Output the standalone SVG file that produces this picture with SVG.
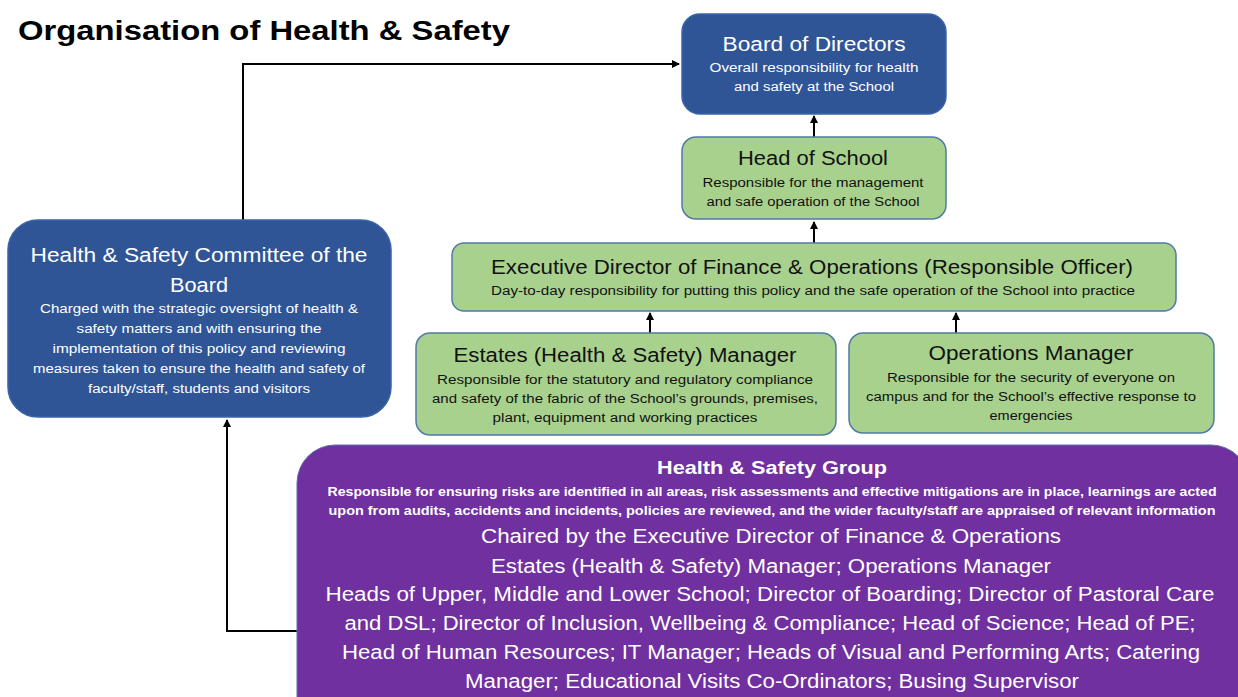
<svg xmlns="http://www.w3.org/2000/svg" width="1238" height="697" viewBox="0 0 1238 697">
<defs>
<marker id="ah" markerWidth="8" markerHeight="8" refX="7" refY="4" orient="auto" markerUnits="userSpaceOnUse">
<path d="M0,0 L8,4 L0,8 Z" fill="#000"/>
</marker>
<style>
text{font-family:"Liberation Sans",Arial,sans-serif;text-anchor:middle}
.blue{fill:#2F5597;stroke:#3A64A8;stroke-width:1.5}
.green{fill:#A9D18E;stroke:#4F7BA6;stroke-width:1.5}
.purple{fill:#7030A0;stroke:#5B6FB0;stroke-width:1}
.w{fill:#fff}
.k{fill:#111}
.t{font-size:20px}
.s{font-size:12.5px}
.cn{fill:none;stroke:#000;stroke-width:2}
</style>
</defs>
<rect width="1238" height="697" fill="#fff"/>
<text x="18" y="40" style="text-anchor:start;font-weight:bold;font-size:28px" fill="#000" textLength="492" lengthAdjust="spacingAndGlyphs">Organisation of Health &amp; Safety</text>

<g id="connectors">
<path class="cn" d="M243,220 V64 H679" marker-end="url(#ah)"/>
<path class="cn" d="M297,631 H227 V420" marker-end="url(#ah)"/>
<path class="cn" d="M814,137 V116" marker-end="url(#ah)"/>
<path class="cn" d="M814,243 V222" marker-end="url(#ah)"/>
<path class="cn" d="M650,333 V313" marker-end="url(#ah)"/>
<path class="cn" d="M956,333 V313" marker-end="url(#ah)"/>
</g>

<g id="board">
<rect class="blue" x="682" y="14" width="264" height="100" rx="18"/>
<text class="w t" x="814" y="51" textLength="183" lengthAdjust="spacingAndGlyphs">Board of Directors</text>
<text class="w s" x="814" y="72" textLength="209" lengthAdjust="spacingAndGlyphs">Overall responsibility for health</text>
<text class="w s" x="814" y="91" textLength="160" lengthAdjust="spacingAndGlyphs">and safety at the School</text>
</g>

<g id="head">
<rect class="green" x="682" y="137" width="264" height="82" rx="14"/>
<text class="k t" x="813" y="165" textLength="150" lengthAdjust="spacingAndGlyphs">Head of School</text>
<text class="k s" x="813" y="187" textLength="221" lengthAdjust="spacingAndGlyphs">Responsible for the management</text>
<text class="k s" x="813" y="206" textLength="213" lengthAdjust="spacingAndGlyphs">and safe operation of the School</text>
</g>

<g id="exec">
<rect class="green" x="452" y="243" width="724" height="68" rx="12"/>
<text class="k t" x="812" y="274" textLength="642" lengthAdjust="spacingAndGlyphs">Executive Director of Finance &amp; Operations (Responsible Officer)</text>
<text class="k s" x="813" y="295" textLength="644" lengthAdjust="spacingAndGlyphs">Day-to-day responsibility for putting this policy and the safe operation of the School into practice</text>
</g>

<g id="estates">
<rect class="green" x="416" y="333" width="420" height="102" rx="14"/>
<text class="k t" x="625" y="362" textLength="343" lengthAdjust="spacingAndGlyphs">Estates (Health &amp; Safety) Manager</text>
<text class="k s" x="625" y="384" textLength="376" lengthAdjust="spacingAndGlyphs">Responsible for the statutory and regulatory compliance</text>
<text class="k s" x="625" y="403" textLength="386" lengthAdjust="spacingAndGlyphs">and safety of the fabric of the School’s grounds, premises,</text>
<text class="k s" x="625" y="422" textLength="265" lengthAdjust="spacingAndGlyphs">plant, equipment and working practices</text>
</g>

<g id="ops">
<rect class="green" x="849" y="333" width="365" height="100" rx="14"/>
<text class="k t" x="1031" y="360" textLength="205" lengthAdjust="spacingAndGlyphs">Operations Manager</text>
<text class="k s" x="1031" y="382" textLength="288" lengthAdjust="spacingAndGlyphs">Responsible for the security of everyone on</text>
<text class="k s" x="1031" y="401" textLength="330" lengthAdjust="spacingAndGlyphs">campus and for the School’s effective response to</text>
<text class="k s" x="1031" y="420" textLength="83" lengthAdjust="spacingAndGlyphs">emergencies</text>
</g>

<g id="committee">
<rect class="blue" x="8" y="220" width="383" height="197" rx="30"/>
<text class="w t" x="199" y="262" textLength="337" lengthAdjust="spacingAndGlyphs">Health &amp; Safety Committee of the</text>
<text class="w t" x="199" y="292" textLength="58" lengthAdjust="spacingAndGlyphs">Board</text>
<text class="w s" x="199" y="313" textLength="318" lengthAdjust="spacingAndGlyphs">Charged with the strategic oversight of health &amp;</text>
<text class="w s" x="199" y="333" textLength="245" lengthAdjust="spacingAndGlyphs">safety matters and with ensuring the</text>
<text class="w s" x="199" y="353" textLength="293" lengthAdjust="spacingAndGlyphs">implementation of this policy and reviewing</text>
<text class="w s" x="199" y="373" textLength="332" lengthAdjust="spacingAndGlyphs">measures taken to ensure the health and safety of</text>
<text class="w s" x="199" y="393" textLength="222" lengthAdjust="spacingAndGlyphs">faculty/staff, students and visitors</text>
</g>

<g id="group">
<rect class="purple" x="297" y="445" width="952" height="290" rx="38"/>
<text class="w" x="772" y="474" style="font-size:18px;font-weight:bold" textLength="230" lengthAdjust="spacingAndGlyphs">Health &amp; Safety Group</text>
<text class="w" x="772" y="496" style="font-size:12px;font-weight:bold" textLength="889" lengthAdjust="spacingAndGlyphs">Responsible for ensuring risks are identified in all areas, risk assessments and effective mitigations are in place, learnings are acted</text>
<text class="w" x="772" y="515" style="font-size:12px;font-weight:bold" textLength="887" lengthAdjust="spacingAndGlyphs">upon from audits, accidents and incidents, policies are reviewed, and the wider faculty/staff are appraised of relevant information</text>
<text class="w t" x="771" y="543" textLength="580" lengthAdjust="spacingAndGlyphs">Chaired by the Executive Director of Finance &amp; Operations</text>
<text class="w t" x="771" y="573" textLength="560" lengthAdjust="spacingAndGlyphs">Estates (Health &amp; Safety) Manager; Operations Manager</text>
<text class="w t" x="770" y="601" textLength="889" lengthAdjust="spacingAndGlyphs">Heads of Upper, Middle and Lower School; Director of Boarding; Director of Pastoral Care</text>
<text class="w t" x="770" y="630" textLength="851" lengthAdjust="spacingAndGlyphs">and DSL; Director of Inclusion, Wellbeing &amp; Compliance; Head of Science; Head of PE;</text>
<text class="w t" x="771" y="659" textLength="858" lengthAdjust="spacingAndGlyphs">Head of Human Resources; IT Manager; Heads of Visual and Performing Arts; Catering</text>
<text class="w t" x="772" y="688" textLength="614" lengthAdjust="spacingAndGlyphs">Manager; Educational Visits Co-Ordinators; Busing Supervisor</text>
</g>
</svg>
